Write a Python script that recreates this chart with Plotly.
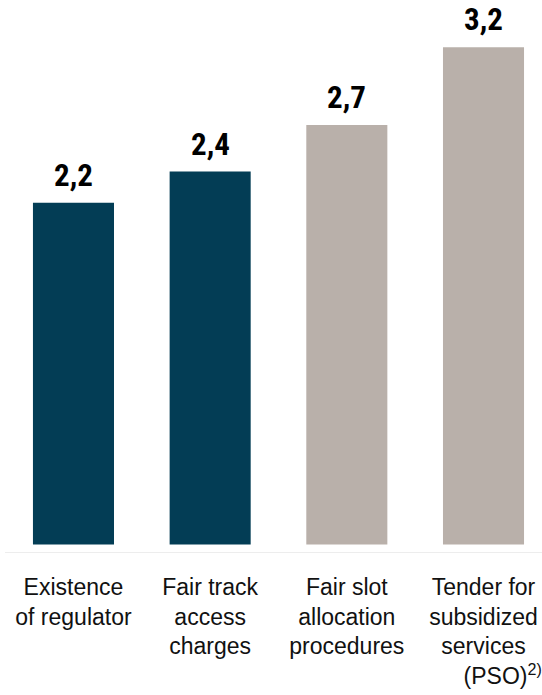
import plotly.graph_objects as go

categories = ["Existence<br>of regulator", "Fair track<br>access<br>charges",
              "Fair slot<br>allocation<br>procedures",
              "Tender for<br>subsidized<br>services<br>&nbsp;&nbsp;&nbsp;&nbsp;&nbsp;&nbsp;(PSO)<sup>2)</sup>"]
values = [2.2, 2.4, 2.7, 3.2]
colors = ["#033d55", "#033d55", "#b9b0aa", "#b9b0aa"]

xs = list(range(len(values)))
labels = [f"{v:.1f}".replace(".", ",") for v in values]

fig = go.Figure(go.Bar(x=xs, y=values, width=0.593, marker=dict(color=colors, line=dict(width=0)),
                       hoverinfo="skip"))

for x, v, t in zip(xs, values, labels):
    fig.add_annotation(x=x, y=v, text=f"<b>{t}</b>", showarrow=False, yanchor="bottom",
                       yshift=7, font=dict(family="Roboto Condensed, Arial Narrow, sans-serif", size=31, color="#000"))

fig.update_layout(
    width=542, height=695, margin=dict(l=5, r=0, t=0, b=143),
    paper_bgcolor="white", plot_bgcolor="white", showlegend=False,
    xaxis=dict(range=[-0.501, 3.428], tickvals=xs, ticktext=categories, showgrid=False, zeroline=False,
               showline=True, linecolor="#ededed", linewidth=1, ticks="", ticklabelstandoff=14,
               ticklabeloverflow="allow",
               tickfont=dict(family="Liberation Sans, Arial, sans-serif", size=23, color="#111")),
    yaxis=dict(range=[-0.048, 3.504], visible=False),
)
fig.write_html("out.html")
